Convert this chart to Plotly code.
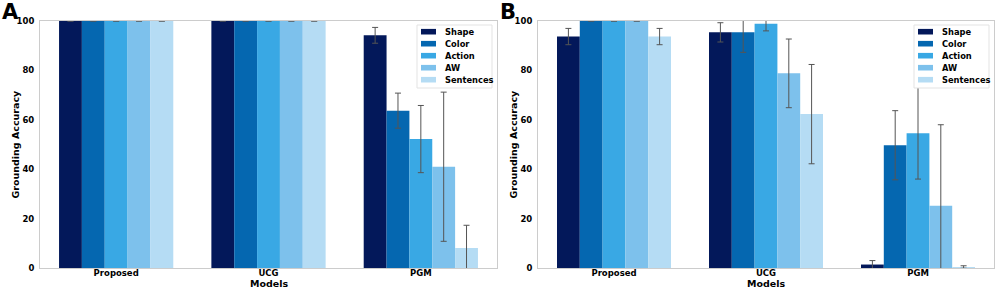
import plotly.graph_objects as go

models = ["Proposed", "UCG", "PGM"]
series = ["Shape", "Color", "Action", "AW", "Sentences"]
colors = ["#03185a", "#0567b0", "#39a8e4", "#7dc1ec", "#b5dcf4"]

# Panel A values and errors (per series, per model)
shape_a = [100, 100, 94.2]
color_a = [100, 100, 63.7]
action_a = [100, 100, 52.2]
aw_a = [100, 100, 41.0]
sent_a = [100, 100, 8.1]
shape_a_err = [0, 0, 3.2]
color_a_err = [0, 0, 7.1]
action_a_err = [0, 0, 13.6]
aw_a_err = [0, 0, 30.2]
sent_a_err = [0, 0, 9.2]

# Panel B values and errors
shape_b = [93.7, 95.4, 1.4]
color_b = [100, 95.4, 49.7]
action_b = [100, 98.9, 54.6]
aw_b = [100, 78.8, 25.2]
sent_b = [93.7, 62.3, 0.4]
shape_b_err = [3.3, 3.9, 1.6]
color_b_err = [0, 8.1, 14.0]
action_b_err = [0, 2.9, 18.6]
aw_b_err = [0, 13.9, 32.8]
sent_b_err = [3.3, 20.1, 0.5]

y_ticks = [0, 20, 40, 60, 80, 100]

panel_a = [shape_a, color_a, action_a, aw_a, sent_a]
panel_a_err = [shape_a_err, color_a_err, action_a_err, aw_a_err, sent_a_err]
panel_b = [shape_b, color_b, action_b, aw_b, sent_b]
panel_b_err = [shape_b_err, color_b_err, action_b_err, aw_b_err, sent_b_err]

FONT = "DejaVu Sans"
W, H = 996, 289


def px(x):
    return x / W


def py(y):
    return 1 - y / H


fig = go.Figure()
for i, name in enumerate(series):
    fig.add_trace(go.Bar(
        x=models, y=panel_a[i], name=name, showlegend=False,
        marker=dict(color=colors[i], line=dict(width=0)),
        error_y=dict(type="data", array=panel_a_err[i], color="#555555", thickness=1, width=3),
        xaxis="x", yaxis="y",
    ))
for i, name in enumerate(series):
    fig.add_trace(go.Bar(
        x=models, y=panel_b[i], name=name, showlegend=False,
        marker=dict(color=colors[i], line=dict(width=0)),
        error_y=dict(type="data", array=panel_b_err[i], color="#555555", thickness=1, width=3),
        xaxis="x2", yaxis="y2",
    ))

tickfont = dict(family=FONT, size=8.5, color="black", weight="bold")
titlefont = dict(family=FONT, size=9.5, color="black", weight="bold")
frame = dict(showline=True, linecolor="#cccccc", linewidth=1, mirror=True,
             showgrid=False, zeroline=False, automargin=False)

ydom = [py(268), py(21)]
panels = [(40, 497), (538, 994)]

fig.update_layout(
    width=W, height=H,
    margin=dict(l=0, r=0, t=0, b=0),
    paper_bgcolor="white", plot_bgcolor="white",
    barmode="group", bargap=0.25, bargroupgap=0,
    xaxis=dict(domain=[px(40), px(497)], anchor="y", tickfont=tickfont, ticks="",
               ticklabelstandoff=-3, **frame),
    yaxis=dict(domain=ydom, anchor="x", range=[0, 100], tickvals=y_ticks, tickfont=tickfont,
               ticks="", ticklabelstandoff=3, **frame),
    xaxis2=dict(domain=[px(538), px(994)], anchor="y2", tickfont=tickfont, ticks="",
                ticklabelstandoff=-3, **frame),
    yaxis2=dict(domain=ydom, anchor="x2", range=[0, 100], tickvals=y_ticks, tickfont=tickfont,
                ticks="", ticklabelstandoff=3, **frame),
)

annotations = []
shapes = []
for (x0, x1), letter in zip(panels, ["A", "B"]):
    # panel letter
    annotations.append(dict(text=letter, x=px(x0 - 30), y=py(12), xref="paper", yref="paper",
                            xanchor="center", yanchor="middle", showarrow=False,
                            font=dict(family=FONT, size=21, color="black", weight="bold")))
    # axis titles
    annotations.append(dict(text="Models", x=px((x0 + x1) / 2), y=py(283), xref="paper",
                            yref="paper", xanchor="center", yanchor="middle",
                            showarrow=False, font=titlefont))
    annotations.append(dict(text="Grounding Accuracy", x=px(x0 - 25), y=py(144.5), xref="paper",
                            yref="paper", xanchor="center", yanchor="middle",
                            showarrow=False, textangle=-90, font=titlefont))
    # legend box
    lx0, lx1 = x1 - 80, x1 - 5
    shapes.append(dict(type="rect", xref="paper", yref="paper",
                       x0=px(lx0), x1=px(lx1), y0=py(88), y1=py(25),
                       fillcolor="white", line=dict(color="#e3e3e3", width=1), layer="above"))
    for i, name in enumerate(series):
        yc = 31.7 + 12 * i
        shapes.append(dict(type="rect", xref="paper", yref="paper",
                           x0=px(lx0 + 4), x1=px(lx0 + 19), y0=py(yc + 2.8), y1=py(yc - 2.8),
                           fillcolor=colors[i], line=dict(width=0), layer="above"))
        annotations.append(dict(text=name, x=px(lx0 + 25.5), y=py(yc), xref="paper", yref="paper",
                                xanchor="left", yanchor="middle", showarrow=False,
                                font=dict(family=FONT, size=8.3, color="black", weight="bold")))

fig.update_layout(annotations=annotations, shapes=shapes)

fig.write_html("out.html", config={"displayModeBar": False},
               post_script="document.body.style.margin='0';")
